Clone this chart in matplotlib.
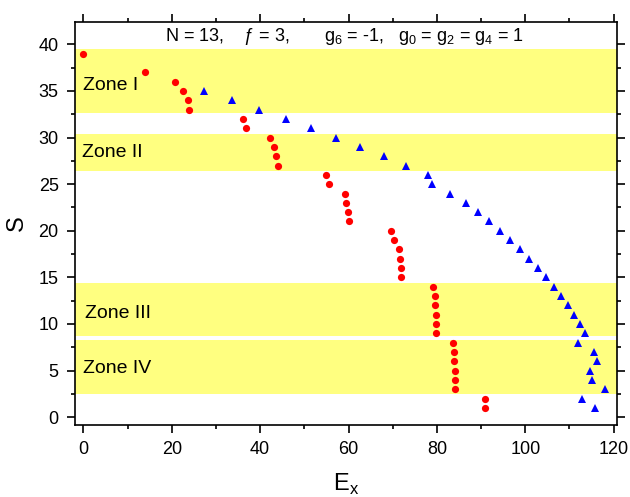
import matplotlib
matplotlib.use("Agg")
import matplotlib.pyplot as plt
from matplotlib.ticker import MultipleLocator

plt.rcParams['font.family'] = ['Liberation Sans', 'DejaVu Sans']

# red circles
red_s = [39, 37, 36, 35, 34, 33, 32, 31, 30, 29, 28, 27, 26, 25, 24, 23, 22, 21,
         20, 19, 18, 17, 16, 15, 14, 13, 12, 11, 10, 9, 8, 7, 6, 5, 4, 3, 2, 1]
red_e = [0, 14, 20.7, 22.6, 23.6, 23.9, 36.1, 36.7, 42.2, 43.2, 43.7, 44.0,
         54.9, 55.5, 59.1, 59.4, 59.8, 60.0,
         69.7, 70.3, 71.4, 71.6, 71.8, 71.9,
         79.2, 79.5, 79.6, 79.8, 79.8, 79.9,
         83.7, 83.8, 83.9, 84.0, 84.0, 84.0, 90.8, 90.8]

# blue triangles
blue_s = list(range(35, 0, -1))
blue_e = [27.2, 33.6, 39.8, 45.8, 51.6, 57.2, 62.6, 68.0, 73.1, 77.9, 79.0,
          83.0, 86.6, 89.4, 91.8, 94.3, 96.5, 98.9, 100.8, 102.9, 104.8,
          106.6, 108.1, 109.7, 111.0, 112.4, 113.5, 112.0, 115.5, 116.3,
          114.7, 115.2, 118.1, 112.9, 115.7]

zone_names = ["Zone I", "Zone II", "Zone III", "Zone IV"]
zone_lo = [32.6, 26.4, 8.7, 2.5]
zone_hi = [39.5, 30.4, 14.4, 8.3]
zone_text_e = [0, -0.2, 0.4, 0]
zone_text_s = [35.15, 27.9, 10.67, 4.72]

fig = plt.figure(figsize=(6.3, 4.97), dpi=100)
ax = fig.add_axes([0.1186, 0.145, 0.8604, 0.8107])

for lo, hi in zip(zone_lo, zone_hi):
    ax.axhspan(lo, hi, color='#ffff80', lw=0, zorder=0)
for name, xe, ys in zip(zone_names, zone_text_e, zone_text_s):
    ax.text(xe, ys, name, fontsize=14, va='baseline', ha='left', zorder=3)

ax.plot(red_e, red_s, 'o', color='red', markersize=5.2, markeredgewidth=0, zorder=4)
ax.plot(blue_e, blue_s, '^', color='blue', markersize=6, markeredgewidth=0, zorder=4)

ax.text(0.497, 0.953,
        "N = 13,    \u0192 = 3,       g$_\\mathregular{6}$ = -1,   "
        "g$_\\mathregular{0}$ = g$_\\mathregular{2}$ = g$_\\mathregular{4}$ = 1",
        transform=ax.transAxes, ha='center', va='baseline', fontsize=13)

ax.set_xlim(-1.95, 120.7)
ax.set_ylim(-0.83, 42.4)
ax.xaxis.set_major_locator(MultipleLocator(20))
ax.xaxis.set_minor_locator(MultipleLocator(10))
ax.yaxis.set_major_locator(MultipleLocator(5))
ax.yaxis.set_minor_locator(MultipleLocator(2.5))
ax.tick_params(which='both', direction='out', top=True, right=True, width=1.2,
               labelsize=13, pad=6)
ax.tick_params(which='major', length=5.5)
ax.tick_params(which='minor', length=3)
for sp in ax.spines.values():
    sp.set_linewidth(1.2)

ax.set_xlabel("E$_\\mathregular{x}$", fontsize=17, labelpad=10)
ax.set_ylabel("S", fontsize=17, labelpad=8)

fig.savefig("out.png", dpi=100)
